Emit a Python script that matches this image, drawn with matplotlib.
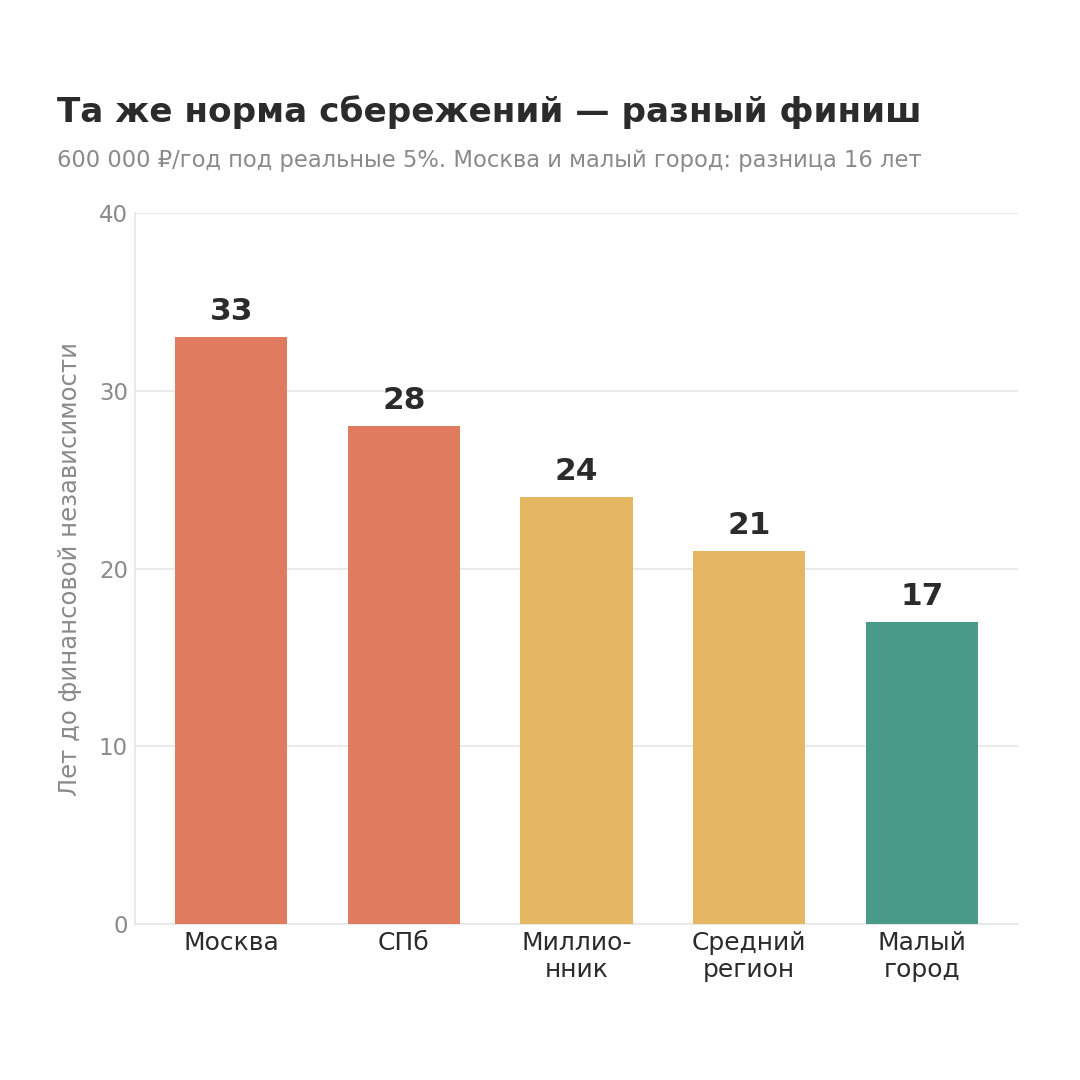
import matplotlib as mpl
import matplotlib.pyplot as plt

mpl.rcParams["font.family"] = "DejaVu Sans"

categories = ["Москва", "СПб", "Миллио-\nнник", "Средний\nрегион", "Малый\nгород"]
years = [33, 28, 24, 21, 17]
bar_colors = ["#E07B60", "#E07B60", "#E5B763", "#E5B763", "#4A9A8A"]

TITLE = "Та же норма сбережений — разный финиш"
SUBTITLE = "600 000 ₽/год под реальные 5%. Москва и малый город: разница 16 лет"
Y_LABEL = "Лет до финансовой независимости"

DARK = "#2b2b2b"
GRAY = "#8a8a8a"
LIGHT = "#e6e6e6"

fig = plt.figure(figsize=(10.8, 10.8), dpi=100)
ax = fig.add_axes([0.125, 0.1444, 0.8176, 0.6584])

x = range(len(categories))
bars = ax.bar(x, years, width=0.65, color=bar_colors, zorder=3)

for b, v in zip(bars, years):
    ax.annotate(str(v), (b.get_x() + b.get_width() / 2, v),
                xytext=(0, 8), textcoords="offset points",
                ha="center", va="bottom", fontsize=22.5, fontweight="bold", color=DARK)

ax.set_ylim(0, 40)
ax.set_yticks([0, 10, 20, 30, 40])
ax.set_xticks(list(x))
ax.set_xticklabels(categories, fontsize=18, color=DARK, linespacing=1.15)
ax.tick_params(axis="y", labelsize=16.5, colors=GRAY, length=0, pad=5)
ax.tick_params(axis="x", length=0, pad=5)
ax.set_ylabel(Y_LABEL, fontsize=17.5, color=GRAY, labelpad=12)

ax.grid(axis="y", color=LIGHT, linewidth=1.2, zorder=0)
for side in ["top", "right"]:
    ax.spines[side].set_visible(False)
for side in ["left", "bottom"]:
    ax.spines[side].set_color(LIGHT)
    ax.spines[side].set_linewidth(1.2)

fig.text(0.053, 0.887, TITLE, fontsize=24.7, fontweight="bold", color=DARK, ha="left", va="baseline")
fig.text(0.053, 0.845, SUBTITLE, fontsize=16.3, color=GRAY, ha="left", va="baseline")

plt.savefig("out.png", dpi=100)
